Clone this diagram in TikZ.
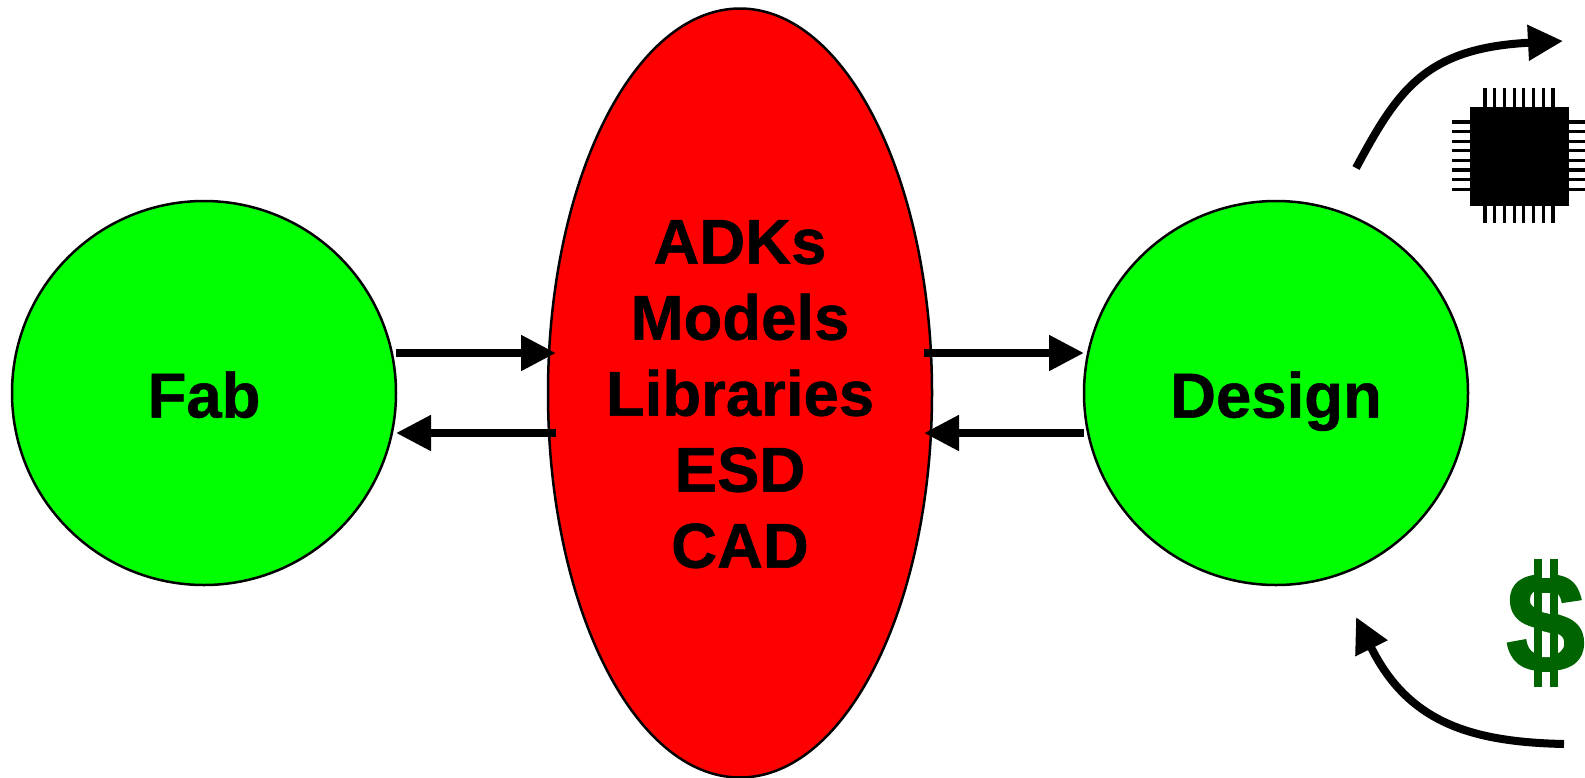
\documentclass[tikz,border=0pt]{standalone}
\usepackage{fontspec}
\setmainfont{Liberation Sans}
\newfontfamily\heavyfont{Liberation Sans Bold}[FakeBold=0.8]
\newfontfamily\moneyfont{Liberation Sans Bold}[FakeBold=1.2]
\usetikzlibrary{arrows.meta,shapes.geometric,calc}
\definecolor{dollargreen}{RGB}{0,100,0}
\definecolor{purered}{RGB}{255,0,0}
\definecolor{puregreen}{RGB}{0,255,0}
\tikzset{
  blob/.style={draw=black,line width=2.5pt,inner sep=0pt,outer sep=0pt,align=center,
    font=\fontsize{63.5}{76}\heavyfont},
  hub/.style={blob,circle,fill=puregreen,minimum size=384pt,text height=49pt,text depth=0pt},
  centre/.style={blob,ellipse,fill=purered,minimum width=384pt,minimum height=769pt},
  flow/.style={line width=8pt,-{Triangle[length=35pt,width=34pt]}},
  curveflow/.style={line width=8pt,-{Triangle[length=35pt,width=34pt]}},
  pin/.style={line width=3.2pt},
  chipbody/.style={fill=black,draw=none,inner sep=0pt,outer sep=0pt,minimum size=99pt},
  dollar/.style={text=dollargreen,inner sep=0pt,font=\fontsize{143}{143}\moneyfont},
  dollarbar/.style={fill=dollargreen,draw=none},
  dollargap/.style={fill=white,draw=none},
}
\begin{document}
\begin{tikzpicture}[x=1pt,y=-1pt]
\useasboundingbox (0,0) rectangle (1585,777);
\node[hub] (fab) at (204,393) {Fab};
\node[centre] (adk) at (740,393) {\rule{0pt}{46pt}ADKs\\Models\\Libraries\\ESD\\CAD};
\node[hub] (design) at (1276,393) {Design};
\draw[flow] ($(fab.east)+(0,40pt)$) -- ($(adk.west)+(8pt,40pt)$);
\draw[flow] ($(adk.west)+(8pt,-40pt)$) -- ($(fab.east)+(0,-40pt)$);
\draw[flow] ($(adk.east)+(-8pt,40pt)$) -- ($(design.west)+(0,40pt)$);
\draw[flow] ($(design.west)+(0,-40pt)$) -- ($(adk.east)+(-8pt,-40pt)$);
\coordinate (outA) at (1356,168);
\coordinate (outB) at (1563,41);
\coordinate (inA) at (1564,744);
\coordinate (inB) at (1356,617);
\draw[curveflow] (outA) .. controls (1398,90) and (1425,48) .. (outB);
\draw[curveflow] (inA) .. controls (1470,742) and (1408,722) .. (inB);
\foreach \i in {0,...,7}{
  \draw[pin] (1485+\i*9.7,88) -- (1485+\i*9.7,223);
  \draw[pin] (1452,122+\i*9.6) -- (1585,122+\i*9.6);
}
\node[chipbody] (chip) at (1519.5,156) {};
\node[dollar] (money) at (1545.5,624) {\$};
\fill[dollargap] (1538,556) rectangle (1554,578);
\fill[dollargap] (1538,672) rectangle (1554,690);
\fill[dollargap] (1538,593) -- (1554,593) -- (1554,615) -- (1538,611) -- cycle;
\fill[dollargap] (1538,630) -- (1554,634) -- (1554,657) -- (1538,657) -- cycle;
\fill[dollarbar] (1534,559) rectangle (1541.7,687);
\fill[dollarbar] (1550,559) rectangle (1558,687);
\end{tikzpicture}
\end{document}
